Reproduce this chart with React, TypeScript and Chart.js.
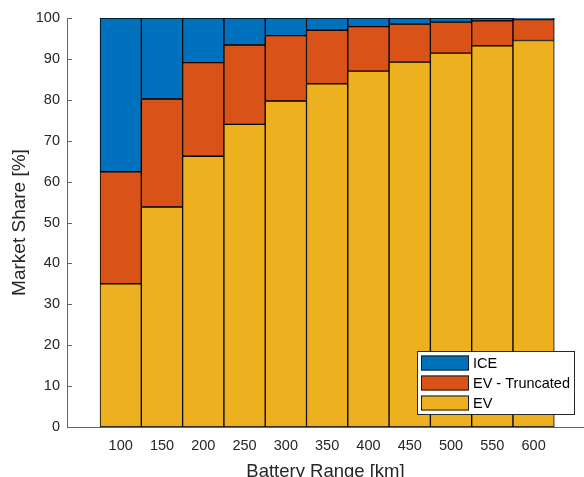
import React, { useEffect, useRef } from "react";
import { Chart, registerables } from "chart.js";

Chart.register(...registerables);

// ---- data ----
const batteryRanges = [100, 150, 200, 250, 300, 350, 400, 450, 500, 550, 600];
const evShare = [35.0, 53.8, 66.2, 74.0, 79.7, 83.9, 87.0, 89.2, 91.4, 93.2, 94.5];
const evTruncatedShare = [27.4, 26.4, 22.9, 19.4, 16.0, 13.1, 10.9, 9.3, 7.6, 6.1, 5.1];
const iceShare = [37.6, 19.8, 10.9, 6.6, 4.3, 3.0, 2.1, 1.5, 1.0, 0.7, 0.4];
const yTickValues = [0, 10, 20, 30, 40, 50, 60, 70, 80, 90, 100];

const FONT = "'Liberation Sans', Arial, Helvetica, sans-serif";
const TEXT = "#262626";
const AXIS = "#666666";

const COLORS = {
  ev: "#EDB120",
  evt: "#D95319",
  ice: "#0072BD",
};

const boxLegend = {
  id: "boxLegend",
  afterDraw(chart: any) {
    const { ctx, chartArea } = chart;
    const w = 158;
    const h = 64;
    const x0 = chartArea.right - 9 - w;
    const y0 = chartArea.bottom - 12 - h;
    ctx.save();
    ctx.fillStyle = "#ffffff";
    ctx.fillRect(x0, y0, w, h);
    ctx.strokeStyle = "#262626";
    ctx.lineWidth = 1;
    ctx.strokeRect(x0 + 0.5, y0 + 0.5, w - 1, h - 1);
    const ds = chart.data.datasets.slice().reverse();
    ds.forEach((d: any, i: number) => {
      const cy = y0 + 12 + i * 20;
      ctx.fillStyle = d.backgroundColor;
      ctx.fillRect(x0 + 4, cy - 7.5, 48, 15);
      ctx.strokeStyle = "#1a1a1a";
      ctx.strokeRect(x0 + 4.5, cy - 7, 47, 14);
      ctx.fillStyle = "#000000";
      ctx.font = `14.5px ${FONT}`;
      ctx.textBaseline = "middle";
      ctx.textAlign = "left";
      ctx.fillText(d.label, x0 + 56, cy + 0.5);
    });
    ctx.restore();
  },
};

const inwardTicks = {
  id: "inwardTicks",
  afterDraw(chart: any) {
    const { ctx, chartArea } = chart;
    const ys = chart.scales.y;
    ctx.save();
    ctx.strokeStyle = AXIS;
    ctx.lineWidth = 1;
    ys.ticks.forEach((t: any) => {
      const py = Math.round(ys.getPixelForValue(t.value)) + 0.5;
      ctx.beginPath();
      ctx.moveTo(chartArea.left, py);
      ctx.lineTo(chartArea.left + 5, py);
      ctx.stroke();
    });
    ctx.restore();
  },
};

export default function App() {
  const canvasRef = useRef<HTMLCanvasElement | null>(null);

  useEffect(() => {
    document.body.style.margin = "0";
    document.body.style.overflow = "hidden";
    const canvas = canvasRef.current;
    if (!canvas) return;
    const mk = (vals: number[]) => batteryRanges.map((x, i) => ({ x, y: vals[i] }));
    const common = {
      borderColor: "#000000",
      borderWidth: 1,
      borderSkipped: false,
      categoryPercentage: 1,
      barPercentage: 1,
    };
    const chart = new Chart(canvas, {
      type: "bar",
      data: {
        datasets: [
          { label: "EV", data: mk(evShare), backgroundColor: COLORS.ev, ...common },
          { label: "EV - Truncated", data: mk(evTruncatedShare), backgroundColor: COLORS.evt, ...common },
          { label: "ICE", data: mk(iceShare), backgroundColor: COLORS.ice, ...common },
        ] as any,
      },
      options: {
        animation: false,
        responsive: false,
        devicePixelRatio: 1,
        layout: { padding: { top: 18, right: 0, left: 0, bottom: 0 } },
        plugins: {
          legend: { display: false },
          tooltip: { enabled: false },
        },
        scales: {
          x: {
            type: "linear",
            min: 35,
            max: 661,
            offset: false,
            stacked: true,
            grid: { display: false, drawTicks: false, offset: false },
            border: { display: true, color: AXIS, width: 1 },
            afterBuildTicks: (axis: any) => {
              axis.ticks = batteryRanges.map((v) => ({ value: v }));
            },
            afterFit: (s: any) => {
              s.height = 50;
            },
            ticks: {
              color: TEXT,
              font: { family: FONT, size: 14.5 },
              padding: 10,
              maxRotation: 0,
              autoSkip: false,
              callback: (v: any) => String(v),
            },
            title: {
              display: true,
              text: "Battery Range [km]",
              color: TEXT,
              font: { family: FONT, size: 18.5 },
              padding: { top: 0, bottom: -6 },
            },
          },
          y: {
            type: "linear",
            min: 0,
            max: 100,
            stacked: true,
            grid: { display: false, drawTicks: false },
            border: { display: true, color: AXIS, width: 1 },
            afterBuildTicks: (axis: any) => {
              axis.ticks = yTickValues.map((v) => ({ value: v }));
            },
            afterFit: (s: any) => {
              s.width = 67;
            },
            ticks: {
              color: TEXT,
              font: { family: FONT, size: 14.5 },
              padding: 7,
              callback: (v: any) => String(v),
            },
            title: {
              display: true,
              text: "Market Share [%]",
              color: TEXT,
              font: { family: FONT, size: 19 },
              padding: { top: 8, bottom: 0 },
            },
          },
        },
      },
      plugins: [inwardTicks, boxLegend],
    } as any);
    return () => chart.destroy();
  }, []);

  return (
    <div style={{ width: 584, height: 477 }}>
      <canvas ref={canvasRef} width={584} height={477} style={{ display: "block" }} />
    </div>
  );
}
